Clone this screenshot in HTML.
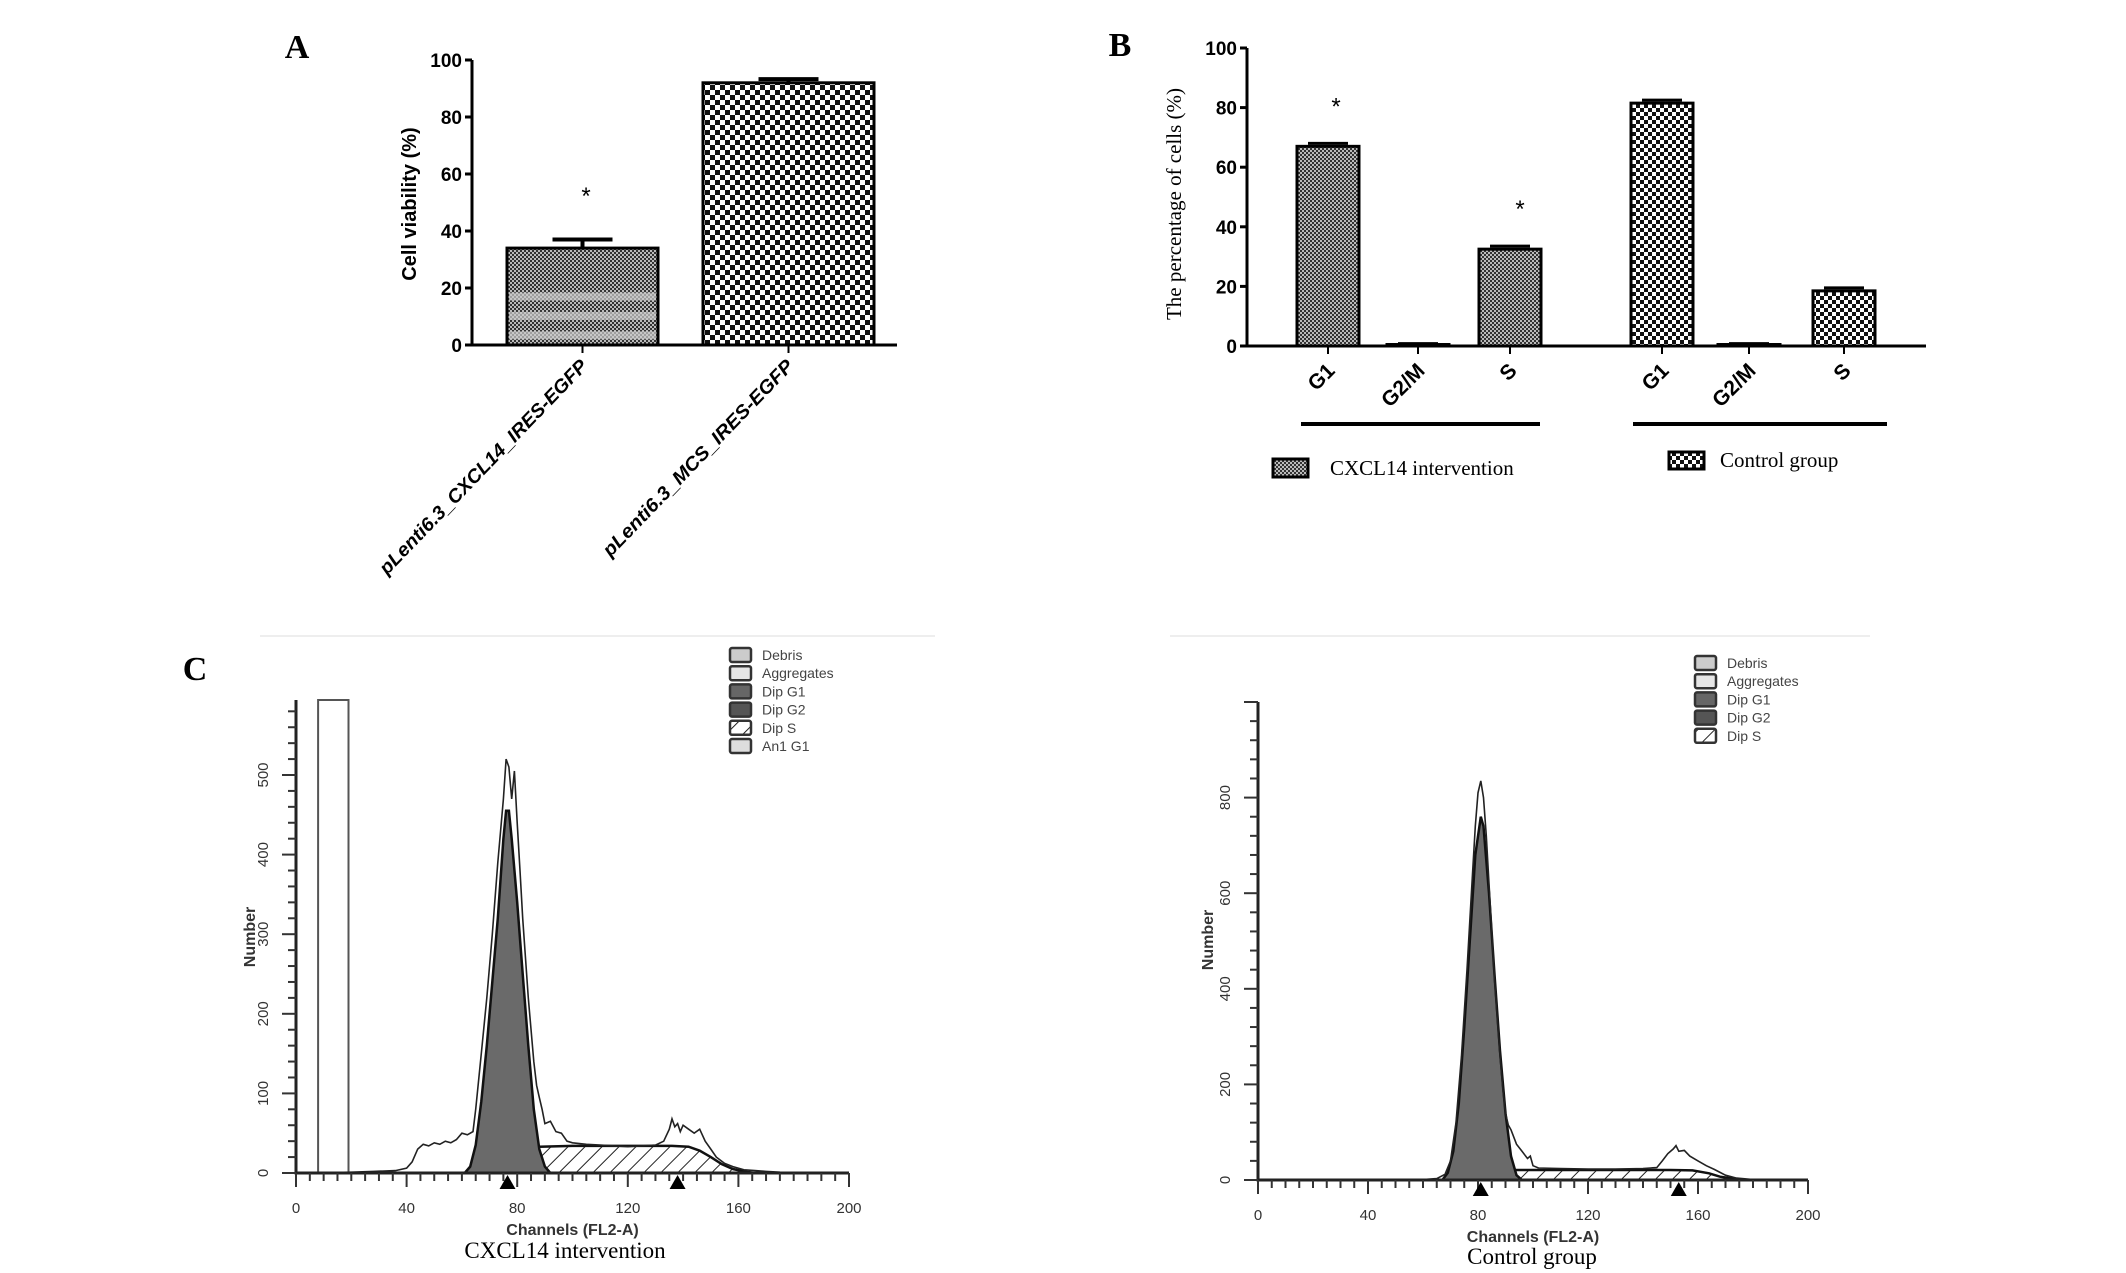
<!DOCTYPE html>
<html><head><meta charset="utf-8"><style>
html,body{margin:0;padding:0;background:#fff}
svg{display:block}
.sans{font-family:"Liberation Sans",sans-serif}
.serif{font-family:"Liberation Serif",serif}
</style></head><body>
<svg id="fig" width="2126" height="1273" viewBox="0 0 2126 1273" xmlns="http://www.w3.org/2000/svg">
<defs>
<pattern id="grayChk" width="4" height="4" patternUnits="userSpaceOnUse"><rect width="4" height="4" fill="#333"/><rect width="2" height="2" fill="#bbb"/><rect x="2" y="2" width="2" height="2" fill="#bbb"/></pattern>
<pattern id="bwChk" width="10" height="10" patternUnits="userSpaceOnUse"><rect width="10" height="10" fill="#111"/><rect width="5" height="5" fill="#fff"/><rect x="5" y="5" width="5" height="5" fill="#fff"/></pattern>
<pattern id="bwChkS" width="8" height="8" patternUnits="userSpaceOnUse"><rect width="8" height="8" fill="#111"/><rect width="4" height="4" fill="#fff"/><rect x="4" y="4" width="4" height="4" fill="#fff"/></pattern>
<pattern id="hatch" width="12" height="12" patternUnits="userSpaceOnUse" patternTransform="rotate(45)"><rect width="12" height="12" fill="#fff"/><line x1="0" y1="0" x2="0" y2="12" stroke="#222" stroke-width="2"/></pattern>
</defs>
<g id="panelA"></g>
<g id="panelB"></g>
<g id="panelC1"></g>
<g id="panelC2"></g>
</svg>
<script>
// ---- Panel A data ----
const aCategories = ["pLenti6.3_CXCL14_IRES-EGFP", "pLenti6.3_MCS_IRES-EGFP"];
const aValues = [34, 92];
const aErrors = [3, 1.3];
const aTicks = [0, 20, 40, 60, 80, 100];
// ---- Panel B data ----
const bCategories = ["G1", "G2/M", "S", "G1", "G2/M", "S"];
const bValues = [67, 0.5, 32.5, 81.5, 0.5, 18.5];
const bErrors = [1, 0.3, 1, 1, 0.3, 1];
const bGroups = ["CXCL14 intervention", "CXCL14 intervention", "CXCL14 intervention", "Control group", "Control group", "Control group"];
const bTicks = [0, 20, 40, 60, 80, 100];
// ---- Panel C data (channel, count) ----
const c1Total = [[0,0],[20,1],[28,2],[36,3],[40,6],[42,14],[44,30],[46,36],[48,34],[50,38],[52,36],[54,40],[56,38],[58,42],[60,50],[62,48],[64,52],[65,80],[67,150],[69,220],[71,300],[73,390],[75,470],[76,520],[77,510],[78,470],[79,505],[80,440],[81,380],[82,320],[84,220],[86,140],[87,110],[88,95],[89,80],[90,62],[92,65],[94,52],[96,50],[98,40],[100,38],[105,36],[110,35],[115,34],[120,33],[125,34],[130,35],[133,40],[135,55],[136,68],[137,58],[138,62],[139,52],[140,60],[142,55],[144,50],[146,55],[148,40],[150,30],[152,20],[155,12],[158,8],[162,4],[166,3],[170,2],[175,1],[200,0]];
const c1G1 = [[61,0],[63,8],[65,35],[67,90],[69,160],[71,240],[73,320],[75,420],[76,455],[77,455],[78,420],[80,340],[82,250],[84,160],[86,80],[88,30],[90,8],[92,0]];
const c1S = [[68,0],[72,5],[76,12],[80,22],[84,30],[88,33],[100,34],[120,34],[136,34],[142,33],[146,28],[150,20],[154,11],[158,5],[162,2],[166,0]];
const c1Debris = [[8,0],[8,700],[19,700],[19,0]];
const c1Markers = [76.5, 138];
const c1XTicks = [0, 40, 80, 120, 160, 200];
const c1YTicks = [0, 100, 200, 300, 400, 500];
const c1Legend = ["Debris", "Aggregates", "Dip G1", "Dip G2", "Dip S", "An1 G1"];

const c2Total = [[0,0],[60,1],[65,3],[68,12],[70,40],[72,120],[74,260],[76,440],[78,640],[79,740],[80,810],[81,835],[82,800],[83,720],[84,620],[85,520],[86,420],[88,260],[89,190],[90,140],[91,115],[92,105],[94,75],[96,60],[98,45],[99,50],[100,30],[102,25],[110,24],[120,23],[130,23],[140,24],[145,26],[147,40],[149,55],[151,65],[152,72],[153,60],[155,62],[157,50],[160,40],[163,30],[166,22],[170,10],[174,4],[178,2],[182,0],[200,0]];
const c2G1 = [[67,0],[69,15],[71,60],[73,160],[75,320],[77,500],[79,680],[81,760],[82,740],[84,600],[86,430],[88,270],[90,140],[92,50],[94,10],[96,0]];
const c2S = [[74,0],[80,8],[86,16],[92,21],[110,21],[130,21],[150,21],[158,20],[164,14],[168,7],[174,2],[178,0]];
const c2Markers = [81, 153];
const c2XTicks = [0, 40, 80, 120, 160, 200];
const c2YTicks = [0, 200, 400, 600, 800];
const c2Legend = ["Debris", "Aggregates", "Dip G1", "Dip G2", "Dip S"];

const NS = "http://www.w3.org/2000/svg";
function mk(parent, tag, attrs, text) {
  const e = document.createElementNS(NS, tag);
  for (const k in attrs) e.setAttribute(k, attrs[k]);
  if (text !== undefined) e.textContent = text;
  parent.appendChild(e);
  return e;
}

// ================= Panel A =================
(function(){
  const g = document.getElementById('panelA');
  const x0 = 472, y0 = 345, y100 = 60, xEnd = 897;
  const ys = v => y0 - (y0 - y100) * v / 100;
  const barX = [507, 703], barW = [151, 171];
  const lbl = mk(g, 'text', {x:297, y:58, 'font-size':34, 'font-weight':'bold', class:'serif', 'text-anchor':'middle'}, 'A');
  
  
  aValues.forEach((v, i) => {
    const fill = i === 0 ? 'url(#grayChk)' : 'url(#bwChk)';
    const r = mk(g, 'rect', {x:barX[i], y:ys(v), width:barW[i], height:y0 - ys(v), fill:fill, stroke:'#000', 'stroke-width':3});
    
    
    if (i === 0) {
      [0.1, 0.3, 0.5].forEach(f => {
        const b = mk(g, 'rect', {x:barX[i] + 2, y:ys(v * f) - 4, width:barW[i] - 4, height:8, fill:'#ccc', opacity:0.7});
        
        
      });
    }
    const cx = barX[i] + barW[i] / 2;
    const e = mk(g, 'path', {d:`M${cx},${ys(v)} V${ys(v + aErrors[i])} M${cx - 30},${ys(v + aErrors[i])} H${cx + 30}`, stroke:'#000', 'stroke-width':4, fill:'none'});
    
    
    mk(g, 'line', {x1:cx, y1:y0, x2:cx, y2:y0 + 8, stroke:'#000', 'stroke-width':2});
    const t = mk(g, 'text', {x:0, y:0, 'font-size':19, 'font-weight':'bold', 'font-style':'italic', class:'sans', 'text-anchor':'end', transform:`translate(${cx + 6},${y0 + 22}) rotate(-46)`}, aCategories[i]);
    t.setAttribute('textLength', i === 0 ? 290 : 265);
    t.setAttribute('lengthAdjust', 'spacingAndGlyphs');
    
    
  });
  const st = mk(g, 'text', {x:586, y:204, 'font-size':24, class:'sans', 'text-anchor':'middle'}, '*');
  
  
  const ax = mk(g, 'path', {d:`M${x0},${y100} V${y0} H${xEnd}`, stroke:'#000', 'stroke-width':3, fill:'none'});
  
  
  aTicks.forEach(t => {
    mk(g, 'line', {x1:x0 - 7, y1:ys(t), x2:x0, y2:ys(t), stroke:'#000', 'stroke-width':3});
    const tl = mk(g, 'text', {x:x0 - 10, y:ys(t) + 7, 'font-size':19, 'font-weight':'bold', class:'sans', 'text-anchor':'end'}, t);
    
    
  });
  const yt = mk(g, 'text', {x:0, y:0, 'font-size':20, 'font-weight':'bold', class:'sans', 'text-anchor':'middle', transform:'translate(416,204) rotate(-90)'}, 'Cell viability  (%)');
  
  
})();

// ================= Panel B =================
(function(){
  const g = document.getElementById('panelB');
  const x0 = 1247, y0 = 346, y100 = 48, xEnd = 1926;
  const ys = v => y0 - (y0 - y100) * v / 100;
  const centers = [1328, 1418, 1510, 1662, 1749, 1844];
  const bw = 62;
  const lbl = mk(g, 'text', {x:1120, y:56, 'font-size':34, 'font-weight':'bold', class:'serif', 'text-anchor':'middle'}, 'B');
  
  
  bValues.forEach((v, i) => {
    const fill = bGroups[i] === 'Control group' ? 'url(#bwChkS)' : 'url(#grayChk)';
    const r = mk(g, 'rect', {x:centers[i] - bw / 2, y:ys(v), width:bw, height:y0 - ys(v), fill:fill, stroke:'#000', 'stroke-width':3});
    
    
    const e = mk(g, 'path', {d:`M${centers[i] - 20},${ys(v + bErrors[i])} H${centers[i] + 20}`, stroke:'#000', 'stroke-width':3});
    
    
    mk(g, 'line', {x1:centers[i], y1:y0, x2:centers[i], y2:y0 + 8, stroke:'#000', 'stroke-width':2});
    const t = mk(g, 'text', {x:0, y:0, 'font-size':21, 'font-weight':'bold', class:'sans', 'text-anchor':'end', transform:`translate(${centers[i] + 8},${y0 + 26}) rotate(-45)`}, bCategories[i]);
    
    
  });
  [[1336, 67], [1520, 32.5]].forEach(s => {
    const st = mk(g, 'text', {x:s[0], y:ys(s[1]) - 32, 'font-size':24, class:'sans', 'text-anchor':'middle'}, '*');
    
    
  });
  const ax = mk(g, 'path', {d:`M${x0},${y100} V${y0} H${xEnd}`, stroke:'#000', 'stroke-width':3, fill:'none'});
  
  
  bTicks.forEach(t => {
    mk(g, 'line', {x1:x0 - 7, y1:ys(t), x2:x0, y2:ys(t), stroke:'#000', 'stroke-width':3});
    const tl = mk(g, 'text', {x:x0 - 10, y:ys(t) + 7, 'font-size':19, 'font-weight':'bold', class:'sans', 'text-anchor':'end'}, t);
    
    
  });
  const yt = mk(g, 'text', {x:0, y:0, 'font-size':21, class:'serif', 'text-anchor':'middle', transform:'translate(1181,204) rotate(-90)'}, 'The percentage of cells (%)');
  
  
  const l1 = mk(g, 'line', {x1:1301, y1:424, x2:1540, y2:424, stroke:'#000', 'stroke-width':4});
  
  
  const l2 = mk(g, 'line', {x1:1633, y1:424, x2:1887, y2:424, stroke:'#000', 'stroke-width':4});
  
  
  const lg1 = mk(g, 'g', {});
  
  
  mk(lg1, 'rect', {x:1273, y:459, width:35, height:18, fill:'url(#grayChk)', stroke:'#000', 'stroke-width':3});
  mk(lg1, 'text', {x:1330, y:475, 'font-size':21, class:'serif'}, 'CXCL14 intervention');
  const lg2 = mk(g, 'g', {});
  
  
  mk(lg2, 'rect', {x:1669, y:452, width:35, height:17, fill:'url(#bwChkS)', stroke:'#000', 'stroke-width':3});
  mk(lg2, 'text', {x:1720, y:467, 'font-size':21, class:'serif'}, 'Control  group');
})();

// ================= Panel C histograms =================
function histogram(gid, cfg) {
  const g = document.getElementById(gid);
  const xs = c => cfg.x0 + (cfg.x200 - cfg.x0) * c / 200;
  const ys = v => cfg.y0 - cfg.pxPer * v;
  const pts = arr => arr.map(p => xs(p[0]).toFixed(1) + ',' + ys(p[1]).toFixed(1)).join(' ');
  mk(g, 'line', {x1:cfg.sepX1, y1:636, x2:cfg.sepX2, y2:636, stroke:'#eee', 'stroke-width':2});
  if (cfg.label) {
    const l = mk(g, 'text', {x:195, y:680, 'font-size':34, 'font-weight':'bold', class:'serif', 'text-anchor':'middle'}, cfg.label);
    
    
  }
  if (cfg.debris) {
    const d = mk(g, 'polygon', {points:cfg.debris.map(p => xs(p[0]).toFixed(1) + ',' + Math.max(ys(p[1]), cfg.yTop).toFixed(1)).join(' '), fill:'#fff', stroke:'#555', 'stroke-width':2});
    
    
  }
  const s = mk(g, 'polygon', {points:pts(cfg.S), fill:'url(#hatch)', stroke:'#111', 'stroke-width':2.5});
  
  
  const g2 = mk(g, 'polygon', {points:pts(cfg.S.filter(p => p[0] <= 92)), fill:'#666', opacity:0.8});
  
  
  const g1 = mk(g, 'polygon', {points:pts(cfg.G1), fill:'#6a6a6a', stroke:'#111', 'stroke-width':2.5});
  
  
  const tot = mk(g, 'polyline', {points:pts(cfg.total), fill:'none', stroke:'#222', 'stroke-width':1.6});
  
  
  const ax = mk(g, 'path', {d:`M${cfg.x0},${cfg.yTop} V${cfg.y0} H${cfg.x200}`, fill:'none', stroke:'#222', 'stroke-width':3});
  
  
  for (let c = 0; c <= 200; c += 5) {
    const major = c % 40 === 0;
    mk(g, 'line', {x1:xs(c), y1:cfg.y0, x2:xs(c), y2:cfg.y0 + (major ? 14 : 8), stroke:'#333', 'stroke-width':2});
  }
  cfg.xTicks.forEach(t => {
    const tl = mk(g, 'text', {x:xs(t), y:cfg.y0 + 40, 'font-size':15, class:'sans', fill:'#333', 'text-anchor':'middle'}, t);
    
    
  });
  for (let v = 0; ys(v) >= cfg.yTop; v += cfg.minor) {
    const major = v % cfg.major === 0;
    mk(g, 'line', {x1:cfg.x0 - (major ? 14 : 8), y1:ys(v), x2:cfg.x0, y2:ys(v), stroke:'#333', 'stroke-width':2});
  }
  cfg.yTicks.forEach(t => {
    const tl = mk(g, 'text', {x:0, y:0, 'font-size':15, class:'sans', fill:'#333', 'text-anchor':'middle', transform:`translate(${cfg.x0 - 28},${ys(t)}) rotate(-90)`}, t);
    
    
  });
  cfg.markers.forEach(m => {
    const tr = mk(g, 'polygon', {points:`${xs(m) - 8},${cfg.y0 + 16} ${xs(m) + 8},${cfg.y0 + 16} ${xs(m)},${cfg.y0 + 2}`, fill:'#000'});
    
    
  });
  const xt = mk(g, 'text', {x:(cfg.x0 + cfg.x200) / 2 + 0, y:cfg.y0 + 62, 'font-size':16, 'font-weight':'bold', class:'sans', fill:'#333', 'text-anchor':'middle'}, 'Channels (FL2-A)');
  
  
  const yt = mk(g, 'text', {x:0, y:0, 'font-size':16, 'font-weight':'bold', class:'sans', fill:'#333', 'text-anchor':'middle', transform:`translate(${cfg.numX},${cfg.numY}) rotate(-90)`}, 'Number');
  
  
  const cap = mk(g, 'text', {x:cfg.capX, y:cfg.capY, 'font-size':23, class:'serif', 'text-anchor':'middle'}, cfg.caption);
  
  
  const fills = {"Debris":"#ccc","Aggregates":"#e6e6e6","Dip G1":"#666","Dip G2":"#555","Dip S":"url(#hatch)","An1 G1":"#ddd"};
  cfg.legend.forEach((name, i) => {
    const lg = mk(g, 'g', {});
    
    
    const y = cfg.legY + i * cfg.legDy;
    mk(lg, 'rect', {x:cfg.legX, y:y - 7, width:21, height:14, rx:2, fill:fills[name], stroke:'#333', 'stroke-width':2.5});
    mk(lg, 'text', {x:cfg.legX + 32, y:y + 5, 'font-size':14, class:'sans', fill:'#444'}, name);
  });
}
histogram('panelC1', {x0:296, x200:849, y0:1173, pxPer:0.796, yTop:700, minor:20, major:100,
  total:c1Total, G1:c1G1, S:c1S, debris:c1Debris, markers:c1Markers, xTicks:c1XTicks, yTicks:c1YTicks,
  legend:c1Legend, legX:730, legY:655, legDy:18.2, label:'C', caption:'CXCL14  intervention', capX:565, capY:1258,
  numX:255, numY:937, sepX1:260, sepX2:935});
histogram('panelC2', {x0:1258, x200:1808, y0:1180, pxPer:0.478, yTop:702, minor:40, major:200,
  total:c2Total, G1:c2G1, S:c2S, debris:null, markers:c2Markers, xTicks:c2XTicks, yTicks:c2YTicks,
  legend:c2Legend, legX:1695, legY:663, legDy:18.2, label:null, caption:'Control  group', capX:1532, capY:1264,
  numX:1213, numY:940, sepX1:1170, sepX2:1870});
</script>
</body></html>
